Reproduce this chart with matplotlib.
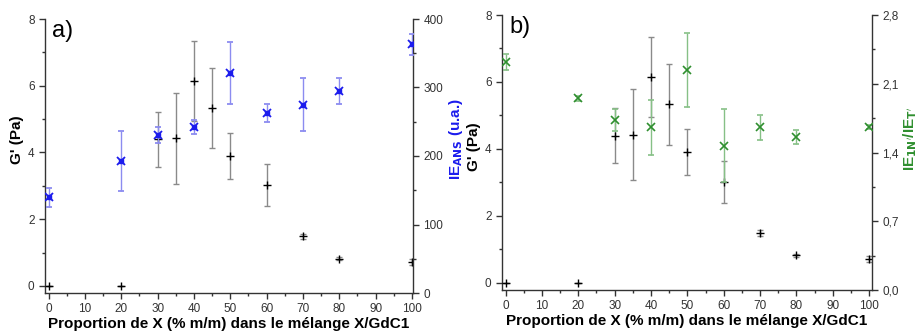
import matplotlib
matplotlib.use("Agg")
import matplotlib.pyplot as plt
from matplotlib.ticker import MultipleLocator, FuncFormatter

plt.rcParams['font.family'] = ['Liberation Sans', 'DejaVu Sans']

# G' data (same for both panels)
x_g = [0, 20, 30, 35, 40, 45, 50, 60, 70, 80, 100]
g_val = [0.0, 0.0, 4.4, 4.42, 6.15, 5.33, 3.9, 3.02, 1.49, 0.82, 0.72]
g_err = [0.0, 0.0, 0.82, 1.36, 1.2, 1.2, 0.69, 0.63, 0.08, 0.04, 0.08]

# IE_ANS (panel a)
x_ans = [0, 20, 30, 40, 50, 60, 70, 80, 100]
ans_val = [140, 193, 231, 242, 321, 263, 275, 295, 363]
ans_err = [14, 44, 12, 10, 45, 13, 39, 19, 15]

# IE_1N'/IE_T' (panel b)
x_ratio = [0, 20, 30, 40, 50, 60, 70, 80, 100]
ratio_val = [2.32, 1.95, 1.73, 1.655, 2.24, 1.47, 1.655, 1.56, 1.66]
ratio_err = [0.085, 0.03, 0.11, 0.28, 0.38, 0.37, 0.13, 0.07, 0.02]

xticks = [0, 10, 20, 30, 40, 50, 60, 70, 80, 90, 100]

BLUE = '#1c1ced'
BLUE_ERR = '#8c8cf0'
GREEN = '#2f8f2f'
GREEN_ERR = '#86c086'
TICKC = '#333333'

fig = plt.figure(figsize=(9.19, 3.33), dpi=100)
ax_a = fig.add_axes([45/919, 1-293/333, 368/919, 274/333])
ax_b = fig.add_axes([502/919, 1-290/333, 370/919, 275/333])

def style_left(ax, xmax, label_y):
    ax.errorbar(x_g, g_val, yerr=g_err, fmt='+', color='black', ms=6, mew=1.0,
                ecolor='#8a8a8a', elinewidth=1.0, capsize=2.5, capthick=1.0, zorder=3)
    ax.set_xlim(-1, xmax)
    ax.set_ylim(-0.21, 8)
    ax.set_xticks(xticks)
    ax.xaxis.set_minor_locator(MultipleLocator(5))
    ax.yaxis.set_major_locator(MultipleLocator(2))
    ax.yaxis.set_minor_locator(MultipleLocator(1))
    ax.spines['top'].set_visible(False)
    ax.spines['right'].set_visible(False)
    for s in ['left', 'bottom']:
        ax.spines[s].set_color(TICKC)
        ax.spines[s].set_linewidth(1.0)
    ax.tick_params(which='major', direction='out', length=4, width=1, colors=TICKC,
                   labelsize=8.5, labelcolor='#333333')
    ax.tick_params(which='minor', direction='out', length=2.5, width=1, colors=TICKC)
    ax.set_ylabel("G' (Pa)", fontsize=11, fontweight='bold', labelpad=2)
    ax.yaxis.set_label_coords(-0.056, label_y)
    ax.set_xlabel("Proportion de X (% m/m) dans le mélange X/GdC1", fontsize=11,
                  fontweight='bold', labelpad=1)

def style_right(ax2):
    ax2.spines['top'].set_visible(False)
    ax2.spines['left'].set_visible(False)
    ax2.spines['bottom'].set_visible(False)
    ax2.spines['right'].set_color(TICKC)
    ax2.spines['right'].set_linewidth(1.0)
    ax2.tick_params(which='major', direction='out', length=4, width=1, colors=TICKC,
                    labelsize=8.5, labelcolor='#333333')
    ax2.tick_params(which='minor', direction='out', length=2.5, width=1, colors=TICKC)

# Panel a
style_left(ax_a, 100.3, 0.56)
ax_a2 = ax_a.twinx()
ax_a2.errorbar(x_ans, ans_val, yerr=ans_err, fmt='x', color=BLUE, ms=6, mew=1.3,
               ecolor=BLUE_ERR, elinewidth=1.0, capsize=2.5, capthick=1.0, zorder=3)
ax_a2.plot(x_ans, ans_val, 's', color=BLUE, ms=3.2, zorder=4)
ax_a2.set_ylim(0, 400)
ax_a2.yaxis.set_major_locator(MultipleLocator(100))
ax_a2.yaxis.set_minor_locator(MultipleLocator(50))
style_right(ax_a2)
ax_a2.set_ylabel("IE$_{\\mathbf{ANS}}$ (u.a.)", color=BLUE, fontsize=11,
                 fontweight='bold', labelpad=1)
ax_a2.yaxis.set_label_coords(1.093, 0.56)
ax_a.text(0.02, 0.995, 'a)', transform=ax_a.transAxes, fontsize=17, va='top', ha='left')

# Panel b
style_left(ax_b, 100.8, 0.52)
ax_b2 = ax_b.twinx()
ax_b2.errorbar(x_ratio, ratio_val, yerr=ratio_err, fmt='x', color=GREEN, ms=6, mew=1.2,
               ecolor=GREEN_ERR, elinewidth=1.0, capsize=2.5, capthick=1.0, zorder=3)
ax_b2.set_ylim(0, 2.8)
ax_b2.yaxis.set_major_locator(MultipleLocator(0.7))
ax_b2.yaxis.set_minor_locator(MultipleLocator(0.35))
ax_b2.yaxis.set_major_formatter(FuncFormatter(lambda v, p: f"{v:.1f}".replace('.', ',')))
style_right(ax_b2)
ax_b2.set_ylabel("IE$_{\\mathbf{1N'}}$/IE$_{\\mathbf{T'}}$", color=GREEN, fontsize=11,
                 fontweight='bold', labelpad=1)
ax_b2.yaxis.set_label_coords(1.078, 0.55)
ax_b.text(0.02, 0.995, 'b)', transform=ax_b.transAxes, fontsize=17, va='top', ha='left')

fig.savefig('out.png', dpi=100)
